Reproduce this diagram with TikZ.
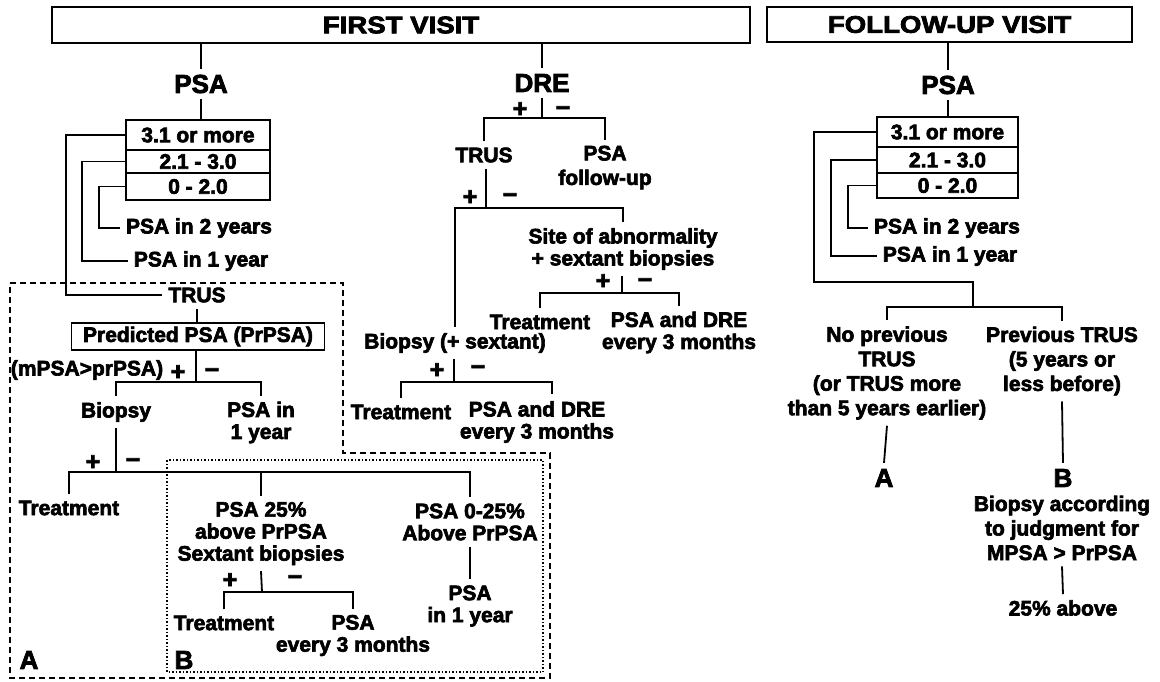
\documentclass[tikz,border=0pt]{standalone}
\usepackage{fontspec}
\setmainfont{Liberation Sans}[BoldFeatures={FakeBold=3}]
\usepackage{graphicx}
\tikzset{
  txt/.style={font=\fontsize{21}{22}\selectfont\bfseries, align=center, inner sep=6pt},
  txtw/.style={font=\fontsize{21}{24.5}\selectfont\bfseries, align=center, inner sep=6pt},
  big/.style={font=\fontsize{26}{30}\selectfont\bfseries, inner sep=6pt},
  sgn/.style={font=\fontsize{25}{26}\selectfont\bfseries, inner sep=0pt, text height=16pt, text depth=0pt},
  conn/.style={line width=1.8pt},
  titlebox/.style={draw, line width=1.8pt, inner sep=0pt, font=\fontsize{24}{28}\selectfont\bfseries},
  rowbox/.style={draw, line width=1.8pt, inner sep=0pt, font=\fontsize{21}{22}\selectfont\bfseries},
  predbox/.style={draw, line width=1.8pt, inner sep=0pt, font=\fontsize{21}{22}\selectfont\bfseries},
  dashA/.style={line width=1.8pt, dash pattern=on 6pt off 4pt},
  dotB/.style={line width=1.5pt, dash pattern=on 1.5pt off 2pt}
}
\begin{document}
\begin{tikzpicture}[x=1pt,y=-1pt]
\useasboundingbox[fill=white] (0,0) rectangle (1160,681);

% ===== titles =====
\node[titlebox, minimum width=698pt, minimum height=36pt] (fv) at (401,25) {\scalebox{1.15}[1]{FIRST VISIT}};
\node[titlebox, minimum width=365pt, minimum height=35pt] (fu) at (949.5,24.5) {\scalebox{1.15}[1]{FOLLOW-UP VISIT}};

% ===== left tree =====
\node[big] (psaL) at (201,84) {PSA};
\node[rowbox, minimum width=144pt, minimum height=30pt] (lr1) at (198,135) {3.1 or more};
\node[rowbox, minimum width=144pt, minimum height=23pt] (lr2) at (198,161.5) {2.1 - 3.0};
\node[rowbox, minimum width=144pt, minimum height=27pt] (lr3) at (198,186.5) {0 - 2.0};
\node[txt] (p2yL) at (199,228) {PSA in 2 years};
\node[txt] (p1yL) at (201,261) {PSA in 1 year};
\node[txt] (trusA) at (197,295) {TRUS};
\node[predbox, minimum width=253pt, minimum height=27pt] (pred) at (198,336.5) {Predicted PSA (PrPSA)};
\node[txt] (mpsa) at (87,370) {(mPSA>prPSA)};
\node[sgn] (pa1) at (178,372) {+};
\node[sgn] (ma1) at (212,370) {−};
\node[txt] (biopsyA) at (116,412) {Biopsy};
\node[txt] (p1yA) at (261,422.5) {PSA in\\1 year};
\node[sgn] (pa2) at (93,462) {+};
\node[sgn] (ma2) at (133,460) {−};
\node[txt] (treatA) at (69,508) {Treatment};
\node[txt] (p25) at (261,533.5) {PSA 25\%\\above PrPSA\\Sextant biopsies};
\node[txt] (p025) at (470,522) {PSA 0-25\%\\Above PrPSA};
\node[sgn] (pa3) at (230,580) {+};
\node[sgn] (ma3) at (295,577) {−};
\node[txt] (treatB) at (224,623) {Treatment};
\node[txt] (pevery) at (353,635.5) {PSA\\every 3 months};
\node[txt] (p1yB) at (470,606) {PSA\\in 1 year};
\node[big] (labA) at (29,660) {A};
\node[big] (labB) at (184,660) {B};

\draw[conn] (fv.south -| psaL) -- (psaL.north);
\draw[conn] (psaL.south) -- (psaL.south |- lr1.north);
\draw[conn] (lr1.west) -- ++(-59,0) |- (trusA.west);
\draw[conn] (lr2.west) -- ++(-43,0) |- (p1yL.west);
\draw[conn] (lr3.west) -- ++(-26,0) |- (p2yL.west);
\draw[conn] (trusA.south) -- (trusA.south |- pred.north);
\coordinate (bA) at (196,382);
\draw[conn] (pred.south -| bA) -- (bA);
\draw[conn] (biopsyA.north) |- (bA) -| (p1yA.north);
\coordinate (bBi) at (116,472);
\draw[conn] (biopsyA.south) -- (bBi);
\draw[conn] (treatA.north) |- (bBi) -| (p025.north);
\draw[conn] (p25.north) -- (p25.north |- bBi);
\coordinate (bP) at (262,592);
\draw[conn] (p25.south) -- (bP);
\draw[conn] (treatB.north) |- (bP) -| (pevery.north);
\draw[conn] (p025.south) -- (p1yB.north);

\draw[dashA] (10,283) -- (343,283) -- (343,453) -- (550,453) -- (550,678) -- (10,678) -- cycle;
\draw[dotB] (167,460) rectangle (543,672);

% ===== middle tree =====
\node[big] (dre) at (542,83) {DRE};
\draw[conn] (fv.south -| dre) -- (dre.north);
\coordinate (bD) at (542,118);
\draw[conn] (dre.south) -- (bD);
\node[sgn] (pd1) at (520,109) {+};
\node[sgn] (md1) at (563,108) {−};
\node[txt] (trusM) at (484,155) {TRUS};
\node[txtw] (psafu) at (605,167.5) {PSA\\follow-up};
\draw[conn] (trusM.north) |- (bD) -| (psafu.north);
\coordinate (bT2) at (486,208);
\draw[conn] (trusM.south -| bT2) -- (bT2);
\node[sgn] (pd2) at (470,197) {+};
\node[sgn] (md2) at (510,195) {−};
\node[txt] (site) at (623,249) {Site of abnormality\\+ sextant biopsies};
\node[txt] (biopsyM) at (455,343) {Biopsy (+ sextant)};
\draw[conn] (biopsyM.north) |- (bT2) -| (site.north);
\coordinate (bS) at (622,293);
\draw[conn] (site.south -| bS) -- (bS);
\node[sgn] (pd3) at (603,281) {+};
\node[sgn] (md3) at (645,280) {−};
\node[txt] (treatM) at (540,322) {Treatment};
\node[txt] (pdre) at (679,332.5) {PSA and DRE\\every 3 months};
\draw[conn] (treatM.north) |- (bS) -| (pdre.north);
\coordinate (bB2) at (454,382);
\draw[conn] (biopsyM.south -| bB2) -- (bB2);
\node[sgn] (pd4) at (437,370) {+};
\node[sgn] (md4) at (478,367) {−};
\node[txt] (treatM2) at (401,412) {Treatment};
\node[txt] (pdre2) at (537,422) {PSA and DRE\\every 3 months};
\coordinate (r2) at (552,394);
\draw[conn] (treatM2.north) |- (bB2) -| (r2);

% ===== right tree =====
\node[big] (psaR) at (948,85) {PSA};
\draw[conn] (fu.south -| psaR) -- (psaR.north);
\node[rowbox, minimum width=141pt, minimum height=30pt] (rr1) at (947.5,132) {3.1 or more};
\node[rowbox, minimum width=141pt, minimum height=26pt] (rr2) at (947.5,160) {2.1 - 3.0};
\node[rowbox, minimum width=141pt, minimum height=25pt] (rr3) at (947.5,185.5) {0 - 2.0};
\draw[conn] (psaR.south) -- (psaR.south |- rr1.north);
\node[txt] (r2y) at (947,228) {PSA in 2 years};
\node[txt] (r1y) at (950,256) {PSA in 1 year};
\draw[conn] (rr2.west) -- ++(-45,0) |- (r1y.west);
\draw[conn] (rr3.west) -- ++(-28,0) |- (r2y.west);
\coordinate (bR) at (973,307);
\draw[conn] (rr1.west) -- ++(-62,0) -- ++(0,150) -| (bR);
\node[txtw] (noprev) at (887,373) {No previous\\TRUS\\(or TRUS more\\than 5 years earlier)};
\node[txtw] (prev) at (1062,361) {Previous TRUS\\(5 years or\\less before)};
\draw[conn] (noprev.north) |- (bR) -| (prev.north);
\node[big] (labA2) at (884,478) {A};
\node[big] (labB2) at (1063,478) {B};
\draw[conn] (noprev.south) -- (labA2.north);
\draw[conn] (prev.south) -- (labB2.north);
\node[txtw] (bioR) at (1062,528) {Biopsy according\\to judgment for\\MPSA > PrPSA};
\node[txt] (ab25) at (1063,608) {25\% above};
\draw[conn] (bioR.south) -- (ab25.north);
\end{tikzpicture}
\end{document}
